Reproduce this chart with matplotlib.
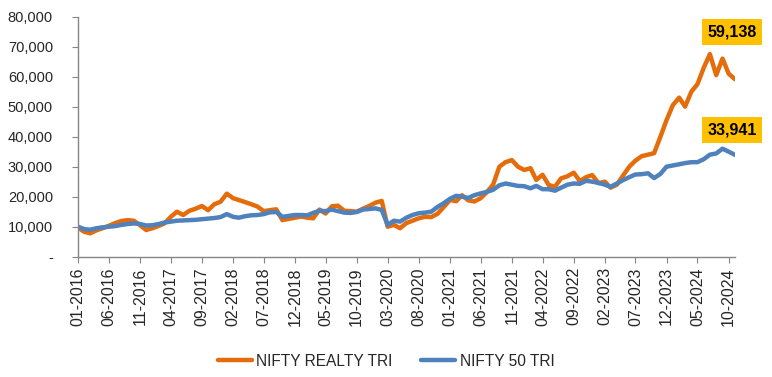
import matplotlib
matplotlib.use("Agg")
import matplotlib.pyplot as plt
import matplotlib.dates as mdates
import matplotlib.ticker as mticker
from matplotlib import font_manager
import pandas as pd

plt.rcParams['font.family'] = ['Liberation Sans', 'DejaVu Sans']
names = {f.name for f in font_manager.fontManager.ttflist}
narrow = ['Liberation Sans Narrow', 'Liberation Sans'] if 'Liberation Sans Narrow' in names else ['Liberation Sans']

# Monthly readings, Jan 2016 .. Nov 2024
start_month = "2016-01-01"
realty = [9.7, 8.3, 7.8, 8.8, 9.5, 10.3, 11.2, 11.9, 12.2, 12.0, 10.5, 8.9,
          9.5, 10.3, 11.1, 13.3, 15.0, 13.9, 15.3, 16.0, 16.9, 15.5, 17.5, 18.3,
          21.0, 19.5, 18.9, 18.2, 17.5, 16.7, 15.2, 15.5, 15.8, 12.2, 12.6, 13.0,
          13.4, 13.0, 12.8, 15.7, 14.4, 16.8, 17.0, 15.3, 15.2, 15.0, 16.0, 16.9,
          18.0, 18.6, 10.0, 10.6, 9.5, 11.2, 12.0, 12.8, 13.3, 13.2, 14.3, 16.5,
          18.9, 18.5, 20.5, 18.8, 18.4, 19.5, 21.5, 24.0, 30.0, 31.5, 32.2, 30.0,
          28.9, 29.5, 25.6, 27.3, 23.9, 23.3, 26.1, 26.8, 28.0, 25.2, 26.5, 27.2,
          24.5, 25.0, 23.0, 24.0, 27.0, 30.0, 32.0, 33.5, 34.0, 34.5, 40.0, 45.5,
          50.5, 53.0, 50.0, 55.0, 57.5, 63.0, 67.5, 60.5, 66.0, 61.0, 59.138]
nifty50 = [10.0, 9.2, 9.0, 9.5, 9.8, 10.0, 10.2, 10.6, 10.9, 11.1, 10.9, 10.4,
           10.5, 10.9, 11.4, 11.7, 12.0, 12.1, 12.2, 12.3, 12.5, 12.7, 12.9, 13.2,
           14.2, 13.3, 13.0, 13.5, 13.8, 13.9, 14.2, 14.8, 14.9, 13.3, 13.6, 13.9,
           13.9, 13.8, 14.6, 15.3, 15.2, 15.7, 15.2, 14.7, 14.6, 14.9, 15.7, 15.9,
           16.1, 15.6, 10.6, 12.0, 11.7, 13.0, 13.9, 14.5, 14.7, 15.0, 16.6, 17.8,
           19.3, 20.3, 20.0, 19.6, 20.5, 21.1, 21.6, 22.3, 23.8, 24.4, 24.0, 23.6,
           23.5, 22.8, 23.6, 22.5, 22.5, 22.0, 23.0, 24.0, 24.4, 24.3, 25.3, 25.0,
           24.6, 24.0, 23.3, 24.4, 25.5, 26.5, 27.4, 27.5, 27.8, 26.2, 27.6, 30.0,
           30.4, 30.8, 31.2, 31.5, 31.5, 32.5, 34.0, 34.4, 36.0, 35.0, 33.941]
series_names = ["NIFTY REALTY TRI", "NIFTY 50 TRI"]
colors = ["#E46C0A", "#4F81BD"]

dates = pd.date_range(start_month, periods=len(realty), freq="MS")
realty_v = [v * 1000 for v in realty]
nifty_v = [v * 1000 for v in nifty50]

fig = plt.figure(figsize=(7.72, 3.77), dpi=100)
ax = fig.add_axes([0.101, 0.319, 0.851, 0.637])

ax.plot(dates, realty_v, color=colors[0], lw=3.2, label=series_names[0], solid_capstyle='round')
ax.plot(dates, nifty_v, color=colors[1], lw=3.2, label=series_names[1], solid_capstyle='round')

ax.set_ylim(0, 80000)
ax.set_xlim(dates[0], dates[-1])
ax.yaxis.set_major_locator(mticker.MultipleLocator(10000))
ax.yaxis.set_major_formatter(mticker.FuncFormatter(lambda v, p: "-" if v == 0 else f"{int(v):,}"))

xt = pd.date_range(start_month, "2024-10-01", freq="5MS")
ax.set_xticks(xt)
ax.xaxis.set_major_formatter(mdates.DateFormatter("%m-%Y"))

for s in ["top", "right"]:
    ax.spines[s].set_visible(False)
for s in ["left", "bottom"]:
    ax.spines[s].set_color("#868686")
    ax.spines[s].set_linewidth(1.0)
ax.tick_params(axis="both", colors="#868686", labelcolor="#262626", labelsize=10.5, length=4, direction="out")
ax.tick_params(axis="y", pad=14)
for lab in ax.get_xticklabels():
    lab.set_rotation(90)
    lab.set_family(narrow)
    lab.set_fontsize(11.5)

for vals, col in [(realty_v, colors[0]), (nifty_v, colors[1])]:
    ax.annotate(f"{vals[-1]:,.0f}", xy=(dates[-1], vals[-1]), xytext=(-3, 47 if col == colors[0] else 25),
                textcoords="offset pixels", ha="center", va="center", fontsize=11.5, fontweight="bold",
                color="black", annotation_clip=False,
                bbox=dict(boxstyle="square,pad=0.35", fc="#FFC000", ec="none"))

fig.legend(loc="center", bbox_to_anchor=(0.5, 1 - 361 / 377), ncol=2, frameon=False,
           prop={'family': narrow, 'size': 11.2}, handlelength=2.2, columnspacing=1.8,
           handletextpad=0.3, labelcolor="#262626")

fig.savefig("out.png", dpi=100)
